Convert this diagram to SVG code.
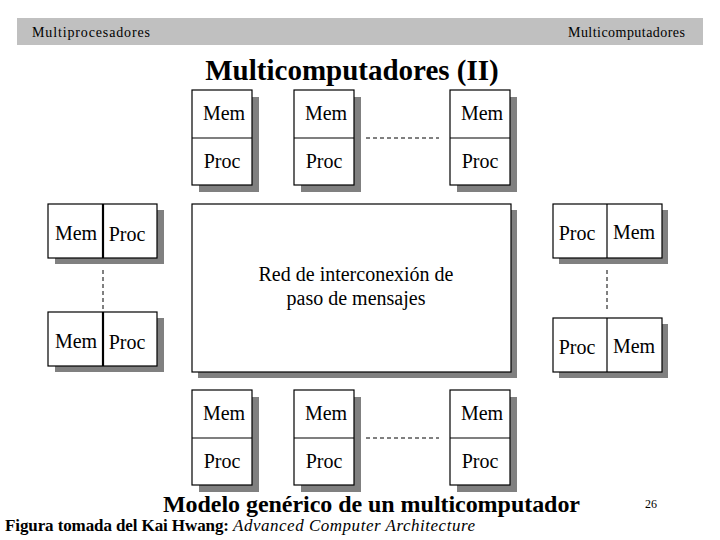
<svg xmlns="http://www.w3.org/2000/svg" width="720" height="540" viewBox="0 0 720 540">
<style>
.box{fill:#fff;stroke:#000;stroke-width:1.2}
.sh{fill:#808080}
.div{stroke:#000;stroke-width:1.2}
.divt{stroke:#000;stroke-width:2.2}
.t{font-family:"Liberation Serif","Times New Roman",serif;font-size:20px;fill:#000}
.s{font-family:"Liberation Serif","Times New Roman",serif;fill:#000}
.dash{stroke:#000;stroke-width:1;stroke-dasharray:4,3;fill:none}
</style>
<rect x="17" y="18" width="686" height="27" fill="#c0c0c0"/>
<text class="s" x="32" y="37" font-size="14" textLength="118">Multiprocesadores</text>
<text class="s" x="568" y="37" font-size="14" textLength="117">Multicomputadores</text>
<text class="s" x="352" y="80" font-size="29" font-weight="bold" text-anchor="middle">Multicomputadores (II)</text>

<g id="top1"><rect class="sh" x="199" y="97" width="60" height="95"/><rect class="box" x="192" y="90" width="60" height="95"/><line class="div" x1="192" y1="138" x2="252" y2="138"/><text class="t" x="224" y="120" text-anchor="middle">Mem</text><text class="t" x="222" y="168" text-anchor="middle">Proc</text></g>
<g id="top2"><rect class="sh" x="301" y="97" width="60" height="95"/><rect class="box" x="294" y="90" width="60" height="95"/><line class="div" x1="294" y1="138" x2="354" y2="138"/><text class="t" x="326" y="120" text-anchor="middle">Mem</text><text class="t" x="324" y="168" text-anchor="middle">Proc</text></g>
<g id="top3"><rect class="sh" x="457" y="97" width="60" height="95"/><rect class="box" x="450" y="90" width="60" height="95"/><line class="div" x1="450" y1="138" x2="510" y2="138"/><text class="t" x="482" y="120" text-anchor="middle">Mem</text><text class="t" x="480" y="168" text-anchor="middle">Proc</text></g>

<g id="left1"><rect class="sh" x="55" y="210" width="109" height="54"/><rect class="box" x="48" y="204" width="109" height="54"/><line class="divt" x1="103" y1="204" x2="103" y2="258"/><text class="t" x="76" y="240" text-anchor="middle">Mem</text><text class="t" x="127" y="241" text-anchor="middle">Proc</text></g>
<g id="left2"><rect class="sh" x="55" y="318" width="109" height="54"/><rect class="box" x="48" y="312" width="109" height="54"/><line class="divt" x1="103" y1="312" x2="103" y2="366"/><text class="t" x="76" y="348" text-anchor="middle">Mem</text><text class="t" x="127" y="349" text-anchor="middle">Proc</text></g>

<g id="net"><rect class="sh" x="198" y="210" width="319" height="168"/><rect class="box" x="192" y="204" width="319" height="168"/><text class="t" x="356" y="281" text-anchor="middle">Red de interconexión de</text><text class="t" x="356" y="305" text-anchor="middle">paso de mensajes</text></g>

<g id="right1"><rect class="sh" x="559" y="210" width="109" height="54"/><rect class="box" x="553" y="204" width="109" height="54"/><line class="div" x1="607" y1="204" x2="607" y2="258"/><text class="t" x="577" y="240" text-anchor="middle">Proc</text><text class="t" x="634" y="239" text-anchor="middle">Mem</text></g>
<g id="right2"><rect class="sh" x="559" y="324" width="109" height="54"/><rect class="box" x="553" y="318" width="109" height="54"/><line class="div" x1="607" y1="318" x2="607" y2="372"/><text class="t" x="577" y="354" text-anchor="middle">Proc</text><text class="t" x="634" y="353" text-anchor="middle">Mem</text></g>

<g id="bot1"><rect class="sh" x="199" y="397" width="60" height="95"/><rect class="box" x="192" y="390" width="60" height="95"/><line class="div" x1="192" y1="438" x2="252" y2="438"/><text class="t" x="224" y="420" text-anchor="middle">Mem</text><text class="t" x="222" y="468" text-anchor="middle">Proc</text></g>
<g id="bot2"><rect class="sh" x="301" y="397" width="60" height="95"/><rect class="box" x="294" y="390" width="60" height="95"/><line class="div" x1="294" y1="438" x2="354" y2="438"/><text class="t" x="326" y="420" text-anchor="middle">Mem</text><text class="t" x="324" y="468" text-anchor="middle">Proc</text></g>
<g id="bot3"><rect class="sh" x="457" y="397" width="60" height="95"/><rect class="box" x="450" y="390" width="60" height="95"/><line class="div" x1="450" y1="438" x2="510" y2="438"/><text class="t" x="482" y="420" text-anchor="middle">Mem</text><text class="t" x="480" y="468" text-anchor="middle">Proc</text></g>

<g id="connectors">
<line class="dash" x1="366" y1="138" x2="439" y2="138"/>
<line class="dash" x1="366" y1="438" x2="439" y2="438"/>
<line class="dash" x1="103" y1="270" x2="103" y2="310"/>
<line class="dash" x1="607" y1="270" x2="607" y2="310"/>
</g>

<text class="s" x="163" y="512" font-size="24" font-weight="bold" textLength="417">Modelo genérico de un multicomputador</text>
<text class="s" x="651" y="508" font-size="12" text-anchor="middle">26</text>
<text class="s" x="5" y="531" font-size="17" font-weight="bold" textLength="224">Figura tomada del Kai Hwang:</text>
<text class="s" x="233" y="531" font-size="17" font-style="italic" textLength="242">Advanced Computer Architecture</text>
</svg>
